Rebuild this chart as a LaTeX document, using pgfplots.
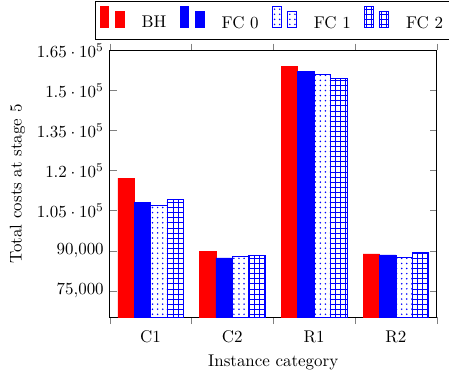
\documentclass[border=0pt]{standalone}
\usepackage{pgfplots}
\pgfplotsset{compat=1.18}
\usetikzlibrary{patterns,calc}
\pgfplotsset{mybarlegend/.style={legend image code/.code={%
  \draw[##1] (0pt,-2.5pt) rectangle (4.9pt,9.9pt);
  \draw[##1] (8.9pt,-2.5pt) rectangle (14.2pt,6.9pt);}}}
\begin{document}
\begin{tikzpicture}
\begin{axis}[
  scale only axis, width=193pt, height=157.5pt,
  ymin=65000, ymax=165000,
  ytick={75000,90000,105000,120000,135000,150000,165000},
  scaled y ticks=false,
  xmin=-0.5, xmax=3.5,
  xtick={0,1,2,3}, xticklabels={C1,C2,R1,R2},
  major x tick style={draw=none},
  minor xtick={-0.5,0.5,1.5,2.5,3.5},
  xtick align=outside,
  minor tick length=4pt,
  ybar, bar width=0.2,
  xlabel={Instance category}, ylabel={Total costs at stage 5},
  legend style={at={(0.5,1)}, anchor=south, yshift=6.5pt, legend columns=-1,
    draw=black, inner ysep=3pt,
    /tikz/every odd column/.append style={column sep=8pt},
    /tikz/every even column/.append style={column sep=6pt}},
]
\addplot[fill=red, draw=red, bar shift=-0.3, mybarlegend] coordinates {(0,117200) (1,89700) (2,159100) (3,88800)};
\addplot[fill=blue, draw=blue, bar shift=-0.1, mybarlegend] coordinates {(0,108000) (1,87300) (2,157000) (3,88400)};
\addplot[pattern=dots, pattern color=blue, draw=blue, bar shift=0.1, mybarlegend] coordinates {(0,107100) (1,87800) (2,156200) (3,87400)};
\addplot[pattern=grid, pattern color=blue, draw=blue, bar shift=0.3, mybarlegend] coordinates {(0,109300) (1,88200) (2,154600) (3,89500)};
\legend{BH, FC 0, FC 1, FC 2}
\end{axis}
\pgfresetboundingbox
\path ($(current axis.outer south west)+(-2.5pt,0)$) rectangle ($(current axis.east |- current axis.outer north)+(7.2pt,0.5pt)$);
\end{tikzpicture}
\end{document}
